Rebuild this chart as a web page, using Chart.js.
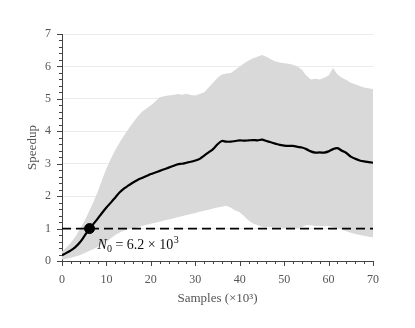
<!DOCTYPE html>
<html>
<head>
<meta charset="utf-8">
<script src="https://cdn.jsdelivr.net/npm/chart.js@4.4.1/dist/chart.umd.min.js"></script>
<style>
  body { margin: 0; background: #fff; }
  #wrap { width: 415px; height: 328px; }
</style>
</head>
<body>
<div id="wrap"><canvas id="speedupChart" width="415" height="328"></canvas></div>
<script>
// samples (x10^3)
const samples = [0,1,2,3,4,5,6,7,8,9,10,11,12,13,14,15,16,17,18,19,20,
	21,22,23,24,25,26,27,28,29,30,31,32,33,34,35,36,37,38,39,40,
	41,42,43,44,45,46,47,48,49,50,51,52,53,54,55,56,57,58,59,60,
	61,62,63,64,65,66,67,68,69,70];

const speedupUpper = [0.30,0.42,0.56,0.75,0.98,1.22,1.50,1.80,2.12,2.50,2.85,
	3.15,3.42,3.66,3.88,4.08,4.27,4.45,4.60,4.70,4.80,
	4.92,5.05,5.08,5.10,5.12,5.15,5.13,5.16,5.12,5.10,
	5.15,5.20,5.35,5.50,5.65,5.75,5.78,5.80,5.90,6.00,
	6.10,6.18,6.25,6.30,6.35,6.30,6.22,6.15,6.12,6.10,
	6.08,6.05,6.00,5.90,5.72,5.60,5.62,5.60,5.65,5.72,
	5.95,5.75,5.65,5.58,5.50,5.45,5.40,5.35,5.33,5.30];

const speedupLower = [0.05,0.07,0.10,0.14,0.18,0.24,0.30,0.36,0.43,0.52,0.60,
	0.70,0.80,0.88,0.94,0.98,1.00,1.04,1.08,1.12,1.15,
	1.18,1.21,1.25,1.28,1.31,1.35,1.38,1.42,1.45,1.48,
	1.52,1.55,1.58,1.62,1.65,1.67,1.70,1.64,1.56,1.50,
	1.38,1.25,1.16,1.10,1.06,1.05,1.04,1.03,1.03,1.02,
	1.01,1.00,1.02,1.05,1.10,1.10,1.08,1.08,1.07,1.08,
	1.05,1.02,0.97,0.92,0.87,0.83,0.80,0.78,0.75,0.73];

const speedupMean = [0.18,0.25,0.33,0.43,0.57,0.76,0.96,1.13,1.30,1.48,1.65,
	1.80,1.96,2.12,2.24,2.33,2.42,2.50,2.56,2.62,2.68,
	2.73,2.78,2.83,2.88,2.93,2.98,3.00,3.03,3.06,3.10,
	3.15,3.25,3.35,3.45,3.60,3.70,3.68,3.68,3.70,3.72,
	3.71,3.72,3.73,3.72,3.74,3.70,3.66,3.62,3.58,3.56,
	3.55,3.55,3.52,3.50,3.45,3.38,3.34,3.35,3.34,3.38,
	3.45,3.48,3.40,3.33,3.22,3.15,3.10,3.07,3.05,3.03];

const baselineX = [0, 70];
const baselineY = [1, 1];
const crossX = [6.2];
const crossY = [1];

const xTicks = [0,10,20,30,40,50,60,70];
const yTicks = [0,1,2,3,4,5,6,7];

const serif = "'Liberation Serif', 'DejaVu Serif', serif";

function pts(xs, ys) {
	return xs.map(function(x, i) { return { x: x, y: ys[i] }; });
}

// minor/major tick marks outside the axes + N0 label
const axisMarks = {
	id : 'axisMarks',
	afterDraw : function(chart) {
		var ctx = chart.ctx, x = chart.scales.x, y = chart.scales.y, a = chart.chartArea;
		ctx.save();
		ctx.strokeStyle = '#444';
		ctx.lineWidth = 1;
		ctx.beginPath();
		for (var v = x.min; v <= x.max + 1e-9; v += 2) {
			var px = Math.round(x.getPixelForValue(v)) + 0.5;
			var len = (v % 10 === 0) ? 5 : 3;
			ctx.moveTo(px, a.bottom);
			ctx.lineTo(px, a.bottom + len);
		}
		for (var k = 0; k <= 35; k++) {
			var w = k / 5;
			var py = Math.round(y.getPixelForValue(w)) + 0.5;
			var l2 = (k % 5 === 0) ? 5 : 3;
			ctx.moveTo(a.left, py);
			ctx.lineTo(a.left - l2, py);
		}
		ctx.stroke();

		// N_0 = 6.2 x 10^3
		var bx = x.getPixelForValue(crossX[0]) + 8;
		var by = y.getPixelForValue(crossY[0]) + 20;
		ctx.fillStyle = '#111';
		ctx.textBaseline = 'alphabetic';
		ctx.font = 'italic 14px ' + serif;
		ctx.fillText('N', bx, by);
		bx += ctx.measureText('N').width;
		ctx.font = '10px ' + serif;
		ctx.fillText('0', bx, by + 3);
		bx += ctx.measureText('0').width;
		ctx.font = '14px ' + serif;
		var mid = ' = 6.2 \u00d7 10';
		ctx.fillText(mid, bx, by);
		bx += ctx.measureText(mid).width;
		ctx.font = '10px ' + serif;
		ctx.fillText('3', bx + 0.5, by - 6);
		ctx.restore();
	}
};

new Chart(document.getElementById('speedupChart'), {
	type : 'line',
	data : {
		datasets : [ {
			label : 'lower',
			data : pts(samples, speedupLower),
			borderWidth : 0,
			borderColor : 'rgba(0,0,0,0)',
			pointRadius : 0,
			fill : false,
			order : 5
		}, {
			label : 'upper',
			data : pts(samples, speedupUpper),
			borderWidth : 0,
			borderColor : 'rgba(0,0,0,0)',
			backgroundColor : '#d9d9d9',
			pointRadius : 0,
			fill : 0,
			order : 4
		}, {
			label : 'baseline',
			data : pts(baselineX, baselineY),
			borderColor : '#000',
			borderWidth : 1.8,
			borderDash : [ 9, 5 ],
			pointRadius : 0,
			fill : false,
			order : 2
		}, {
			label : 'mean',
			data : pts(samples, speedupMean),
			borderColor : '#000',
			borderWidth : 2.2,
			pointRadius : 0,
			tension : 0.3,
			fill : false,
			order : 1
		}, {
			type : 'scatter',
			label : 'N0',
			data : pts(crossX, crossY),
			backgroundColor : '#000',
			borderColor : '#000',
			pointRadius : 5,
			order : 0
		} ]
	},
	options : {
		responsive : false,
		animation : false,
		events : [],
		layout : {
			padding : { left : 0, right : 42, top : 34, bottom : 0 }
		},
		plugins : {
			legend : { display : false },
			tooltip : { enabled : false }
		},
		scales : {
			x : {
				type : 'linear',
				min : 0,
				max : 70,
				afterFit : function(s) { s.height = 67; },
				afterBuildTicks : function(s) { s.ticks = xTicks.map(function(v) { return { value : v }; }); },
				grid : { display : false, drawTicks : false },
				border : { display : true, color : '#444', width : 1 },
				ticks : {
					padding : 12,
					color : '#555',
					font : { family : serif, size : 12 }
				},
				title : {
					display : true,
					text : 'Samples (\u00d710\u00b3)',
					color : '#555',
					padding : { top : 0, bottom : 22 },
					font : { family : serif, size : 13 }
				}
			},
			y : {
				min : 0,
				max : 7,
				z : 1,
				afterFit : function(s) { s.width = 62; },
				afterBuildTicks : function(s) { s.ticks = yTicks.map(function(v) { return { value : v }; }); },
				grid : { color : 'rgba(0,0,0,0.08)', drawTicks : false },
				border : { display : true, color : '#444', width : 1 },
				ticks : {
					padding : 11,
					color : '#555',
					font : { family : serif, size : 12 }
				},
				title : {
					display : true,
					text : 'Speedup',
					color : '#555',
					padding : { top : 25, bottom : 0 },
					font : { family : serif, size : 13 }
				}
			}
		}
	},
	plugins : [ axisMarks ]
});
</script>
</body>
</html>
